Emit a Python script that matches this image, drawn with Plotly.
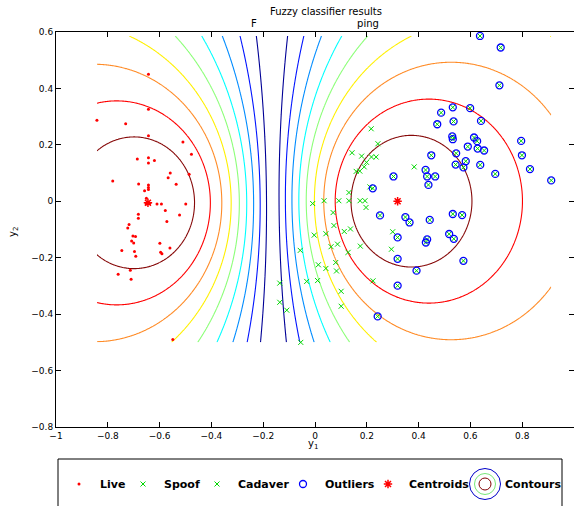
import numpy as np
import plotly.graph_objects as go

# ---------------- data ----------------
live_x = [-0.643, -0.643, -0.842, -0.731, -0.643, -0.510, -0.477, -0.686, -0.643, -0.620,
          -0.643, -0.559, -0.567, -0.486, -0.781, -0.681, -0.643, -0.536, -0.643, -0.643,
          -0.658, -0.651, -0.645, -0.652, -0.638, -0.610, -0.593, -0.499, -0.578, -0.682,
          -0.682, -0.523, -0.572, -0.718, -0.723, -0.703, -0.693, -0.708, -0.700, -0.599,
          -0.746, -0.697, -0.596, -0.591, -0.560, -0.692, -0.760, -0.710, -0.713, -0.549]
live_y = [0.450, 0.326, 0.287, 0.275, 0.232, 0.210, 0.167, 0.150, 0.154, 0.145,
          0.136, 0.100, 0.083, 0.096, 0.072, 0.061, 0.058, 0.060, 0.049, 0.042,
          0.037, 0.011, -0.003, -0.010, -0.008, -0.010, -0.010, -0.010, -0.033, -0.046,
          -0.060, -0.049, -0.072, -0.082, -0.095, -0.123, -0.125, -0.141, -0.148, -0.149,
          -0.174, -0.178, -0.181, -0.186, -0.166, -0.195, -0.259, -0.276, -0.244, -0.490]

spoof_x = [0.217, 0.243, 0.143, 0.180, 0.218, 0.236, 0.199, 0.190, 0.383, 0.173,
           0.159, 0.212, 0.131, -0.009, 0.035, 0.092, 0.131, 0.174, 0.193, 0.197,
           0.070, 0.073, 0.137, 0.113, 0.042, -0.003, 0.300, 0.087, 0.062, 0.175,
           -0.057, 0.128, 0.295, 0.080, 0.013, 0.042, 0.083, -0.032, 0.010, 0.224,
           -0.136, 0.101, -0.136, 0.101, -0.109, -0.055]
spoof_y = [0.257, 0.204, 0.172, 0.160, 0.157, 0.157, 0.138, 0.122, 0.122, 0.107,
           0.106, 0.051, 0.031, -0.008, 0.002, 0.002, 0.002, 0.002, 0.002, -0.022,
           -0.040, -0.086, -0.098, -0.107, -0.115, -0.120, -0.108, -0.152, -0.161, -0.159,
           -0.174, -0.181, -0.170, -0.217, -0.225, -0.238, -0.247, -0.284, -0.281, -0.282,
           -0.290, -0.319, -0.358, -0.372, -0.386, -0.500]

cadaver_x = [0.637, 0.717, 0.712, 0.487, 0.532, 0.599, 0.535, 0.641, 0.472, 0.530,
             0.532, 0.614, 0.626, 0.590, 0.628, 0.653, 0.796, 0.799, 0.830, 0.912,
             0.449, 0.545, 0.582, 0.543, 0.573, 0.638, 0.696, 0.427, 0.433, 0.464,
             0.438, 0.303, 0.223, 0.251, 0.349, 0.365, 0.443, 0.532, 0.568, 0.319,
             0.518, 0.536, 0.433, 0.428, 0.319, 0.573, 0.392, 0.319, 0.242]
cadaver_y = [0.586, 0.545, 0.411, 0.314, 0.333, 0.330, 0.283, 0.285, 0.273, 0.230,
             0.220, 0.226, 0.213, 0.194, 0.187, 0.180, 0.214, 0.163, 0.114, 0.074,
             0.163, 0.170, 0.142, 0.130, 0.120, 0.129, 0.097, 0.111, 0.088, 0.088,
             0.058, 0.088, 0.046, -0.050, -0.056, -0.075, -0.066, -0.045, -0.049, -0.128,
             -0.116, -0.133, -0.135, -0.146, -0.204, -0.211, -0.246, -0.299, -0.408]

centroid_x = [-0.645, 0.319]
centroid_y = [-0.005, 0.000]

contour_levels = [0.55, 0.60, 0.65, 0.70, 0.75, 0.80, 0.85, 0.90, 0.95]
level_colors = ['rgb(0,0,150)', 'rgb(0,20,255)', 'rgb(0,140,255)', 'rgb(0,255,255)',
                'rgb(140,255,120)', 'rgb(255,240,0)', 'rgb(255,140,40)', 'rgb(255,0,0)',
                'rgb(135,10,10)']

x_ticks = [-1, -0.8, -0.6, -0.4, -0.2, 0, 0.2, 0.4, 0.6, 0.8, 1]
y_ticks = [-0.8, -0.6, -0.4, -0.2, 0, 0.2, 0.4, 0.6]

legend_names = ['Live', 'Spoof', 'Cadaver', 'Outliers', 'Centroids', 'Contours']

# ---------------- figure geometry ----------------
W, H = 574, 506
AX_L, AX_R, AX_T, AX_B = 56, 574, 32, 427

# ---------------- membership field for the contours ----------------
all_x = live_x + spoof_x + cadaver_x
all_y = live_y + spoof_y + cadaver_y
gx = np.linspace(min(all_x), max(all_x), 420)
gy = np.linspace(min(all_y), max(all_y), 360)
X, Y = np.meshgrid(gx, gy)
d1 = (X - centroid_x[0]) ** 2 + (Y - centroid_y[0]) ** 2 + 1e-12
d2 = (X - centroid_x[1]) ** 2 + (Y - centroid_y[1]) ** 2 + 1e-12
u1 = d2 / (d1 + d2)
Z = np.maximum(u1, 1 - u1)

fig = go.Figure()
for lev, col in zip(contour_levels, level_colors):
    fig.add_trace(go.Contour(
        x=gx, y=gy, z=Z, autocontour=False,
        contours=dict(start=lev, end=lev, size=0.05, coloring='none'),
        line=dict(width=1.1, color=col), showscale=False, hoverinfo='skip', showlegend=False))

GREEN = 'rgb(0,215,0)'
live_marker = dict(symbol='circle', size=3, color='red', line=dict(width=0))
x_marker = dict(symbol='x-thin', size=5, line=dict(width=1, color=GREEN), color=GREEN)
out_marker = dict(symbol='circle-open', size=7, color='blue', line=dict(width=1.3, color='blue'))
cen_marker = dict(symbol='asterisk-open', size=7, color='red', line=dict(width=1.5, color='red'))

fig.add_trace(go.Scatter(x=live_x, y=live_y, mode='markers', marker=live_marker, name='Live', showlegend=False))
fig.add_trace(go.Scatter(x=spoof_x, y=spoof_y, mode='markers', marker=x_marker, name='Spoof', showlegend=False))
fig.add_trace(go.Scatter(x=cadaver_x, y=cadaver_y, mode='markers', marker=x_marker, name='Cadaver', showlegend=False))
fig.add_trace(go.Scatter(x=cadaver_x, y=cadaver_y, mode='markers', marker=out_marker, name='Outliers', showlegend=False))
fig.add_trace(go.Scatter(x=centroid_x, y=centroid_y, mode='markers', marker=cen_marker, name='Centroids', showlegend=False))

# ---------------- hand-built legend (pixel coordinate overlay axis) ----------------
LEG_Y = 484
leg_marker_x = [79, 143, 217, 303, 388, 485]
leg_text_x = [98, 162, 236, 323, 407, 503]
leg_markers = [live_marker, x_marker, x_marker, out_marker, cen_marker]
for mx, mk, nm in zip(leg_marker_x[:5], leg_markers, legend_names[:5]):
    fig.add_trace(go.Scatter(x=[mx], y=[LEG_Y], mode='markers', marker=mk, xaxis='x2', yaxis='y2',
                             showlegend=False, hoverinfo='skip', name=nm))
for sz, col in [(31, 'rgb(0,0,200)'), (21, 'rgb(120,230,120)'), (12, 'rgb(128,0,0)')]:
    fig.add_trace(go.Scatter(x=[leg_marker_x[5]], y=[LEG_Y], mode='markers', xaxis='x2', yaxis='y2',
                             marker=dict(symbol='circle-open', size=sz, color=col, line=dict(width=1, color=col)),
                             showlegend=False, hoverinfo='skip', name='Contours'))

annotations = []
for tx, nm in zip(leg_text_x, legend_names):
    annotations.append(dict(x=tx / W, y=1 - LEG_Y / H, xref='paper', yref='paper', text='<b>%s</b>' % nm,
                            showarrow=False, xanchor='left', yanchor='middle',
                            font=dict(family='DejaVu Sans', size=11, color='black')))

# titles and axis labels
annotations.append(dict(x=326 / W, y=1 - 12 / H, xref='paper', yref='paper', text='Fuzzy classifier results',
                        showarrow=False, xanchor='center', yanchor='middle',
                        font=dict(family='DejaVu Sans', size=10, color='black')))
annotations.append(dict(x=315 / W, y=1 - 24 / H, xref='paper', yref='paper',
                        text="F<span style='color:white'>uzzy clustering map</span>ping",
                        showarrow=False, xanchor='center', yanchor='middle',
                        font=dict(family='DejaVu Sans', size=10, color='black')))
annotations.append(dict(x=313 / W, y=1 - 444 / H, xref='paper', yref='paper', text='y<sub>1</sub>',
                        showarrow=False, xanchor='center', yanchor='middle',
                        font=dict(family='DejaVu Sans', size=10, color='black')))
annotations.append(dict(x=13 / W, y=1 - 232 / H, xref='paper', yref='paper', text='y<sub>2</sub>',
                        showarrow=False, xanchor='center', yanchor='middle', textangle=-90,
                        font=dict(family='DejaVu Sans', size=10, color='black')))

axis_common = dict(showgrid=False, zeroline=False, showline=True, linecolor='black', linewidth=1,
                   mirror='ticks', ticks='inside', ticklen=5, tickcolor='black', tickwidth=1,
                   tickfont=dict(family='DejaVu Sans', size=9, color='black'), automargin=False,
                   fixedrange=True)

fig.update_layout(
    width=W, height=H, autosize=False,
    margin=dict(l=0, r=0, t=0, b=0, pad=0),
    paper_bgcolor='white', plot_bgcolor='rgba(0,0,0,0)',
    xaxis=dict(domain=[AX_L / W, AX_R / W], range=[-1, 1], tickmode='array', tickvals=x_ticks, **axis_common),
    yaxis=dict(domain=[1 - AX_B / H, 1 - AX_T / H], range=[-0.8, 0.6], tickmode='array', tickvals=y_ticks,
               **axis_common),
    xaxis2=dict(domain=[0, 1], range=[0, W], visible=False, fixedrange=True),
    yaxis2=dict(domain=[0, 51 / H], range=[H, H - 51], visible=False, fixedrange=True),
    annotations=annotations,
    shapes=[dict(type='rect', xref='paper', yref='paper', x0=58 / W, x1=562 / W, y0=-0.05, y1=1 - 459 / H,
                 line=dict(color='black', width=1), fillcolor='rgba(0,0,0,0)', layer='below')],
    showlegend=False,
)

fig.write_html('out.html', config={'displayModeBar': False},
               post_script="document.body.style.margin='0px';")
